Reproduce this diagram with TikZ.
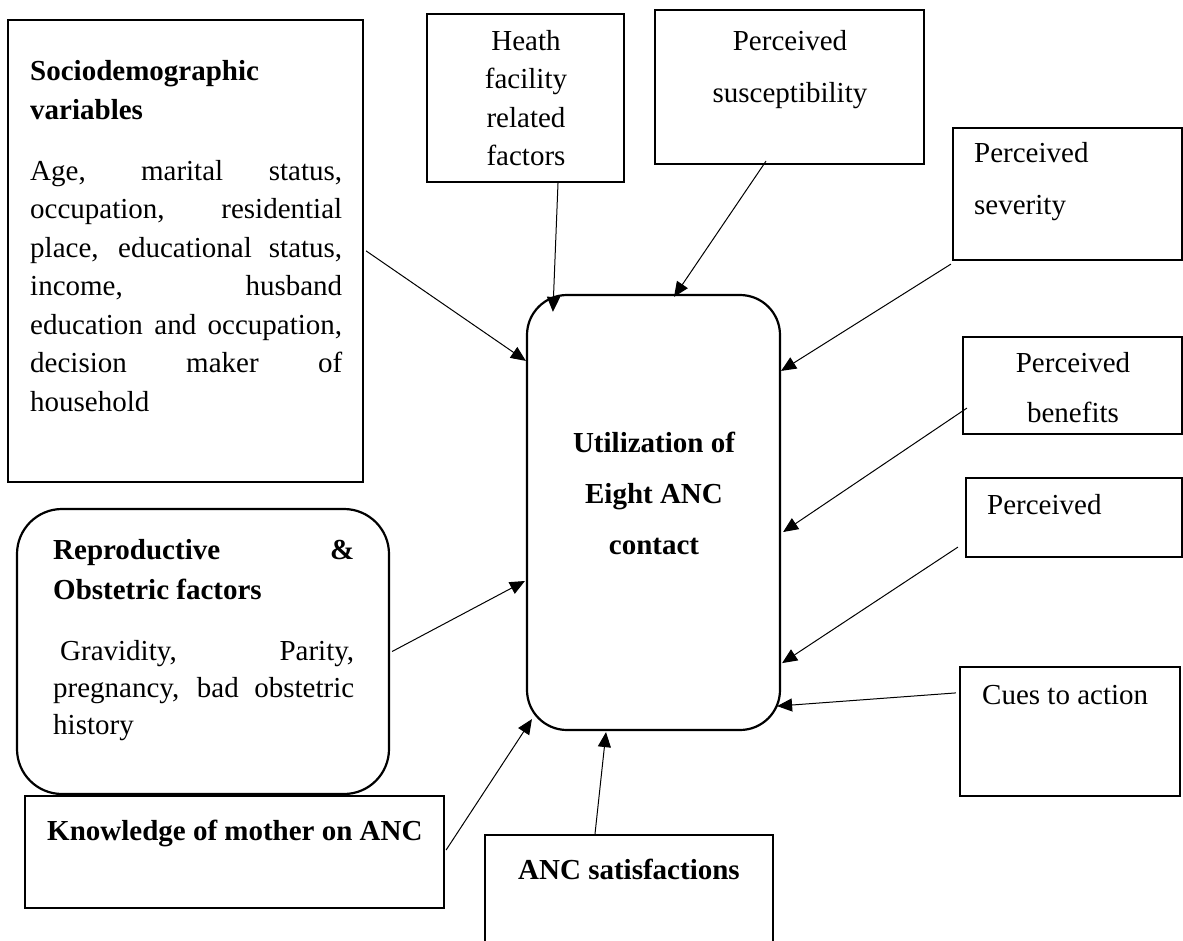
\documentclass[tikz,border=0pt]{standalone}
\usepackage{fontspec}
\setmainfont{Liberation Serif}
\usetikzlibrary{arrows.meta,calc}
\newcommand\jline[2]{\makebox[#1pt][s]{#2}}
\begin{document}
\begin{tikzpicture}[x=1pt,y=-1pt,
  box/.style={draw, line width=2.2pt, inner sep=0pt, rectangle},
  txt/.style={inner sep=0pt, font=\fontsize{29}{38.5}\selectfont},
  arr/.style={line width=1pt, -{Triangle[length=15pt,width=13pt]}}]
\clip (0,0) rectangle (1183,940);
\fill[white] (0,0) rectangle (1183,940);
% boxes
\node[box, minimum width=355pt, minimum height=462pt] (socio) at (185.5,251) {};
\node[box, minimum width=197pt, minimum height=168pt] (heath) at (525.5,98) {};
\node[box, minimum width=269pt, minimum height=154pt] (susc) at (789.5,87) {};
\node[box, minimum width=229pt, minimum height=132pt] (sev) at (1067.5,194) {};
\node[box, minimum width=219pt, minimum height=97pt] (ben) at (1072.5,385.5) {};
\node[box, minimum width=216pt, minimum height=79pt] (perc) at (1074,517.5) {};
\node[box, minimum width=220pt, minimum height=129pt] (cues) at (1070,731.5) {};
\node[box, rounded corners=40pt, minimum width=253pt, minimum height=435pt] (cen) at (653.5,512.5) {};
\node[box, rounded corners=45pt, minimum width=372pt, minimum height=285pt] (repro) at (203,651.5) {};
\node[box, minimum width=419pt, minimum height=112pt] (know) at (234.5,852) {};
\node[box, minimum width=288pt, minimum height=130pt] (anc) at (629,900) {};
% texts (base anchor = baseline of the last line)
\node[txt, anchor=base west, align=left, font=\bfseries\fontsize{29}{39}\selectfont] (sochead) at (30,119) {Sociodemographic\\variables};
\node[txt, anchor=base west, align=left] (sobody) at (30,411) {\jline{312}{Age, marital status,}\\ \jline{312}{occupation, residential}\\ \jline{312}{place, educational status,}\\ \jline{312}{income, husband}\\ \jline{312}{education and occupation,}\\ \jline{312}{decision maker of}\\ household};
\node[txt, anchor=base, align=center] (heatht) at (526,165.5) {Heath\\facility\\related\\factors};
\node[txt, anchor=base, align=center, font=\fontsize{29}{52}\selectfont] (susct) at (790,102) {Perceived\\susceptibility};
\node[txt, anchor=base west, align=left, font=\fontsize{29}{52}\selectfont] (sevt) at (974,214) {Perceived\\severity};
\node[txt, anchor=base, align=center, font=\fontsize{29}{50}\selectfont] (bent) at (1073,422) {Perceived\\benefits};
\node[txt, anchor=base west] (perct) at (987,514) {Perceived};
\node[txt, anchor=base west] (cuest) at (982,704) {Cues to action};
\node[txt, anchor=base west, align=left, font=\bfseries\fontsize{29}{40}\selectfont] (rephead) at (53,599) {\jline{301}{Reproductive \&}\\Obstetric factors};
\node[txt, anchor=base west, align=left, font=\fontsize{29}{37}\selectfont] (repbody) at (53,734) {\jline{301}{\hspace*{7pt}Gravidity, Parity,}\\ \jline{301}{pregnancy, bad obstetric}\\ history};
\node[txt, anchor=base west, font=\bfseries\fontsize{29}{38.5}\selectfont] (knowt) at (47,840) {Knowledge of mother on ANC};
\node[txt, anchor=base, font=\bfseries\fontsize{29}{38.5}\selectfont] (anct) at (629,879) {ANC satisfactions};
\node[txt, anchor=base, align=center, font=\bfseries\fontsize{29}{51}\selectfont] (cent) at (654,554) {Utilization of\\Eight ANC\\contact};
% connectors
\draw[arr] ($(socio.north east)+(2,232)$) -- ($(cen.north west)+(0,67)$);
\draw[arr] ($(heath.south)+(32.5,0)$) -- ($(cen.north west)+(27,18)$);
\draw[arr] ($(susc.south)+(-23.5,-4)$) -- ($(cen.north)+(20.5,3)$);
\draw[arr] ($(sev.south west)+(-1,3)$) -- ($(cen.north east)+(0,77)$);
\draw[arr] ($(ben.south west)+(5,-27)$) -- ($(cen.east)+(2,19.5)$);
\draw[arr] ($(perc.south west)+(-7,-11)$) -- ($(cen.south east)+(1,-68)$);
\draw[arr] ($(cues.north west)+(-3,27)$) -- ($(cen.south east)+(-4,-25)$);
\draw[arr] ($(repro.east)+(2,0)$) -- ($(cen.west)+(-1,68.5)$);
\draw[arr] ($(know.east)+(1,-2)$) -- ($(cen.south west)+(6,-12)$);
\draw[arr] ($(anc.north)+(-34,0)$) -- ($(cen.south)+(-47.5,1)$);
\end{tikzpicture}
\end{document}
